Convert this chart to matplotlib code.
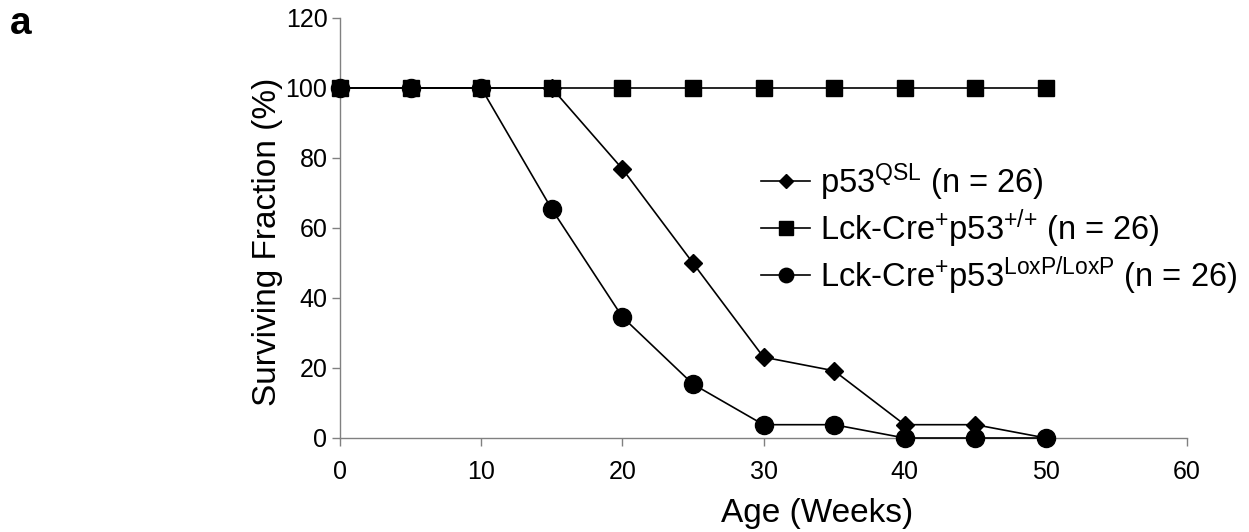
import matplotlib
matplotlib.use('Agg')
import matplotlib.pyplot as plt

plt.rcParams['font.family'] = ['Liberation Sans', 'DejaVu Sans']
plt.rcParams['mathtext.default'] = 'regular'

# ── data ──
weeks = [0, 5, 10, 15, 20, 25, 30, 35, 40, 45, 50]
qsl = [100, 100, 100, 100, 76.9, 50, 23.1, 19.2, 3.8, 3.8, 0]
wt = [100, 100, 100, 100, 100, 100, 100, 100, 100, 100, 100]
loxp = [100, 100, 100, 65.4, 34.6, 15.4, 3.8, 3.8, 0, 0, 0]

labels = [r'p53$^{QSL}$ (n = 26)',
          r'Lck-Cre$^{{+}}$p53$^{{+}/{+}}$ (n = 26)',
          r'Lck-Cre$^{{+}}$p53$^{LoxP/LoxP}$ (n = 26)']

fig = plt.figure(figsize=(12.49, 5.32), dpi=100)
ax = fig.add_axes([0.2722, 0.1767, 0.6782, 0.7895])

h_lox, = ax.plot(weeks, loxp, color='black', lw=1.2, marker='o', ms=13, clip_on=False, zorder=3)
h_qsl, = ax.plot(weeks, qsl, color='black', lw=1.2, marker='D', ms=9.5, clip_on=False, zorder=4)
h_wt, = ax.plot(weeks, wt, color='black', lw=1.2, marker='s', ms=12, clip_on=False, zorder=5)

ax.set_xlim(0, 60)
ax.set_ylim(0, 120)
ax.set_xticks(range(0, 61, 10))
ax.set_yticks(range(0, 121, 20))

for s in ['top', 'right']:
    ax.spines[s].set_visible(False)
for s in ['left', 'bottom']:
    ax.spines[s].set_color('#808080')
    ax.spines[s].set_linewidth(1.0)
ax.tick_params(direction='out', length=6, width=1.0, color='#808080', labelsize=18)
ax.tick_params(axis='x', pad=10)
ax.tick_params(axis='y', pad=3)

ax.set_xlabel('Age (Weeks)', fontsize=24)
ax.set_ylabel('Surviving Fraction (%)', fontsize=24)
ax.xaxis.set_label_coords(0.563, -0.143)
ax.yaxis.set_label_coords(-0.067, 0.467)

ax.legend([h_qsl, h_wt, h_lox], labels, loc='upper left', bbox_to_anchor=(0.482, 0.69),
          frameon=False, fontsize=23.5, handlelength=1.5, handletextpad=0.3,
          labelspacing=0.13, markerscale=0.8, borderaxespad=0)

fig.text(0.008, 0.955, 'a', fontsize=28, fontweight='bold', va='center', ha='left')

fig.savefig('out.png', dpi=100)
